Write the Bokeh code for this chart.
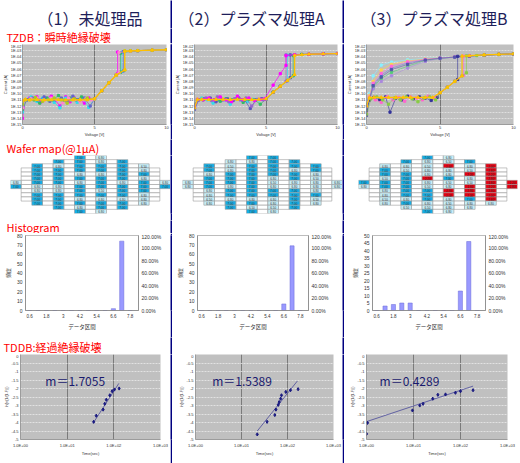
from bokeh.plotting import figure
from bokeh.layouts import row, column
from bokeh.models import (Range1d, FixedTicker, LinearAxis, Label, Title,
                          CustomJSTickFormatter, NumeralTickFormatter)
from bokeh.core.properties import value
from bokeh.embed import file_html
from bokeh.resources import INLINE

JP = "Noto Sans CJK JP"
LAT = "Liberation Sans"
RED = "#ff0000"
NAVY = "#000080"
TITLE_C = "#1e1e5a"

# ---------------- texts ----------------
titles = ["（1）未処理品", "（2）プラズマ処理A", "（3）プラズマ処理B"]
label_tzdb = "TZDB：瞬時絶縁破壊"
label_wafer = "Wafer map(@1μA)"
label_hist = "Histogram"
label_tddb = "TDDB:経過絶縁破壊"
m_texts = ["m＝1.7055", "m＝1.5389", "m＝0.4289"]

# ---------------- I-V (TZDB) data ----------------
iv_decades = [1e-02, 1e-03, 1e-04, 1e-05, 1e-06, 1e-07, 1e-08, 1e-09,
              1e-10, 1e-11, 1e-12, 1e-13, 1e-14, 1e-15]
iv_volt_ticks = [0, 5, 10]

c1_mag_v = [0, 0.2, 0.5, 1.0, 1.3, 1.6, 2.0, 2.3, 2.6, 3.0, 3.3, 3.6, 4.0, 4.3, 4.6, 5.0, 5.5, 6.0, 6.5, 6.6, 6.6, 7.0, 8.0, 9.0, 10.0]
c1_mag_i = [1e-14, 1e-11, 2e-11, 3e-11, 5e-12, 2e-11, 4e-11, 8e-12, 1e-12, 3e-11, 5e-12, 2e-11, 1e-11, 3e-12, 2e-11, 1.5e-11, 3e-10, 6e-09, 1.2e-07, 2e-07, 6e-04, 7e-04, 1e-03, 1.2e-03, 1.4e-03]
c1_cyn_v = [0, 0.2, 0.6, 1.0, 1.4, 1.8, 2.2, 2.6, 3.0, 3.4, 3.8, 4.2, 4.6, 5.0, 5.5, 6.0, 6.5, 6.9, 6.9, 7.5, 8.0, 9.0, 10.0]
c1_cyn_i = [1e-13, 1e-11, 3e-11, 6e-12, 2e-11, 1e-11, 4e-12, 5e-13, 2e-11, 1e-11, 4e-12, 2e-11, 6e-13, 1.3e-11, 3e-10, 6e-09, 1.1e-07, 4e-07, 5e-04, 8e-04, 1e-03, 1.2e-03, 1.4e-03]
c1_grn_v = [0, 0.3, 0.8, 1.2, 1.7, 2.1, 2.5, 2.9, 3.3, 3.7, 4.1, 4.5, 5.0, 5.5, 6.0, 6.5, 6.8, 6.8, 7.5, 8.0, 9.0, 10.0]
c1_grn_i = [3e-13, 1e-11, 1e-11, 3e-12, 2e-11, 1e-11, 5e-11, 8e-12, 2e-11, 1e-11, 3e-11, 1.2e-11, 1.4e-11, 3e-10, 6e-09, 1.1e-07, 3e-07, 4e-04, 8e-04, 1e-03, 1.2e-03, 1.4e-03]
c1_blu_v = [0, 0.3, 0.7, 1.1, 1.5, 1.9, 2.3, 2.7, 3.1, 3.5, 3.9, 4.3, 4.7, 5.0, 5.5, 6.0, 6.5, 7.0, 7.0, 7.5, 8.0, 9.0, 10.0]
c1_blu_i = [1e-12, 1e-11, 2e-11, 1e-11, 3e-11, 6e-12, 1e-11, 2e-11, 7e-12, 4e-11, 1e-11, 2e-11, 1e-12, 1.5e-11, 3e-10, 6e-09, 1.1e-07, 5e-07, 7e-04, 8e-04, 1e-03, 1.2e-03, 1.4e-03]
c1_pnk_v = [0, 0.2, 0.6, 1.0, 1.5, 2.0, 2.4, 2.8, 3.2, 3.6, 4.0, 4.4, 4.8, 5.0, 5.5, 6.0, 6.5, 6.7, 6.7, 7.5, 8.0, 9.0, 10.0]
c1_pnk_i = [5e-13, 1e-11, 1.5e-11, 2e-11, 8e-12, 2e-11, 1e-11, 3e-12, 2e-11, 1e-11, 5e-12, 1.5e-11, 1e-11, 1.3e-11, 3e-10, 6e-09, 1.2e-07, 2.5e-07, 5e-04, 8e-04, 1e-03, 1.2e-03, 1.4e-03]
c1_lim_v = [0, 0.2, 0.5, 0.9, 1.4, 1.8, 2.2, 2.7, 3.1, 3.6, 4.0, 4.5, 5.0, 5.5, 6.0, 6.5, 7.1, 7.1, 7.5, 8.0, 9.0, 10.0]
c1_lim_i = [2e-12, 1e-11, 1e-11, 2.5e-11, 6e-12, 1e-11, 2e-11, 1e-11, 3e-12, 1.5e-11, 1e-11, 2e-11, 1.4e-11, 3e-10, 6e-09, 1.1e-07, 7e-07, 9e-04, 9e-04, 1e-03, 1.2e-03, 1.4e-03]
c1_yel_v = [0, 0.2, 0.5, 1.0, 1.5, 2.0, 2.5, 3.0, 3.5, 4.0, 4.5, 5.0, 5.5, 6.0, 6.5, 7.1, 7.1, 7.5, 8.0, 9.0, 10.0]
c1_yel_i = [8e-12, 1.2e-11, 1e-11, 1.1e-11, 1e-11, 1e-11, 1.1e-11, 1e-11, 1e-11, 1.1e-11, 1e-11, 1.5e-11, 3e-10, 6e-09, 1e-07, 8e-07, 8e-04, 9e-04, 1e-03, 1.2e-03, 1.4e-03]

c2_cyn_v = [0, 0.2, 0.5, 0.9, 1.3, 1.7, 2.1, 2.5, 2.9, 3.3, 3.7, 4.1, 4.5, 5.0, 5.5, 6.0, 6.5, 6.5, 7.0, 8.0, 9.0, 10.0]
c2_cyn_i = [1e-12, 1e-11, 2e-11, 1e-11, 3e-12, 1.5e-11, 1e-11, 2e-12, 1.5e-11, 1e-11, 5e-12, 1.2e-11, 1e-11, 1.3e-11, 1.8e-10, 1.6e-09, 1.4e-08, 1.8e-04, 2.2e-04, 2.6e-04, 3e-04, 3.4e-04]
c2_blu_v = [0, 0.3, 0.7, 1.1, 1.5, 1.9, 2.3, 2.7, 3.1, 3.5, 3.9, 4.3, 4.7, 5.0, 5.5, 6.0, 6.5, 6.7, 6.7, 7.5, 8.0, 9.0, 10.0]
c2_blu_i = [3e-13, 1e-11, 1.5e-11, 2e-11, 5e-12, 1e-11, 1.5e-11, 8e-12, 2e-11, 1e-11, 4e-13, 1e-11, 1.5e-11, 1.3e-11, 1.8e-10, 1.6e-09, 1.4e-08, 4e-08, 2e-04, 2.4e-04, 2.6e-04, 3e-04, 3.4e-04]
c2_grn_v = [0, 0.2, 0.6, 1.0, 1.4, 1.8, 2.2, 2.6, 3.0, 3.4, 3.8, 4.2, 4.6, 5.0, 5.5, 6.0, 6.5, 6.9, 6.9, 7.5, 8.0, 9.0, 10.0]
c2_grn_i = [2e-12, 1e-11, 1e-11, 1.5e-11, 1e-11, 6e-12, 1.5e-11, 1e-11, 2e-11, 4e-12, 1.2e-11, 1e-11, 2e-12, 1.3e-11, 1.8e-10, 1.6e-09, 1.4e-08, 8e-08, 1.6e-04, 2.4e-04, 2.6e-04, 3e-04, 3.4e-04]
c2_pur_v = [0, 0.3, 0.8, 1.2, 1.6, 2.0, 2.4, 2.8, 3.2, 3.6, 4.0, 4.4, 4.8, 5.0, 5.5, 6.0, 6.4, 6.4, 7.0, 8.0, 9.0, 10.0]
c2_pur_i = [5e-13, 1e-11, 2e-11, 8e-12, 3e-11, 1e-11, 5e-12, 1.5e-11, 1e-11, 2e-11, 1e-12, 1.2e-11, 1e-11, 1.3e-11, 1.8e-10, 1.6e-09, 1e-08, 2e-04, 2.2e-04, 2.6e-04, 3e-04, 3.4e-04]
c2_mag_v = [0, 0.2, 0.6, 1.0, 1.4, 1.8, 2.2, 2.6, 3.0, 3.4, 3.8, 4.2, 4.6, 4.9, 5.5, 6.0, 6.4, 6.4, 7.0, 8.0, 9.0, 10.0]
c2_mag_i = [1e-12, 1.2e-11, 1e-11, 2e-11, 1e-11, 3e-11, 1e-11, 5e-12, 4e-11, 1e-11, 2e-11, 8e-12, 1.2e-11, 1.5e-11, 2.5e-09, 1.8e-07, 4e-06, 1.5e-04, 2.2e-04, 2.6e-04, 3e-04, 3.4e-04]
c2_yel_v = [0, 0.2, 0.5, 1.0, 1.5, 2.0, 2.5, 3.0, 3.5, 4.0, 4.5, 5.0, 5.5, 6.0, 6.5, 7.0, 7.0, 7.5, 8.0, 9.0, 10.0]
c2_yel_i = [5e-13, 1.2e-11, 1.2e-11, 1.1e-11, 1.2e-11, 1.2e-11, 1.1e-11, 1.2e-11, 1.2e-11, 1.1e-11, 1.2e-11, 1.5e-11, 1.8e-10, 1.6e-09, 1.4e-08, 1.3e-07, 1.7e-04, 2.2e-04, 2.6e-04, 3e-04, 3.4e-04]

c3_hys_v = [0, 0.2, 0.45, 1.0, 1.7, 2.8, 4.0, 5.0, 6.0, 7.0, 8.0, 9.0, 10.0]
c3_cyn_i = [3e-13, 1e-10, 8e-08, 4.5e-06, 1.4e-05, 3.2e-05, 5.5e-05, 8e-05, 1e-04, 1.3e-04, 1.8e-04, 2.4e-04, 3e-04]
c3_org_i = [1e-12, 5e-11, 1e-08, 7e-07, 6e-06, 2e-05, 4.5e-05, 7e-05, 1e-04, 1.3e-04, 1.8e-04, 2.4e-04, 3e-04]
c3_blu_i = [5e-13, 2e-11, 3e-09, 1e-07, 1.4e-06, 1e-05, 3.5e-05, 6e-05, 9e-05, 1.3e-04, 1.8e-04, 2.4e-04, 3e-04]
c3_grn_i = [2e-12, 1e-11, 1e-09, 3e-08, 3e-07, 3e-06, 2.5e-05, 5.5e-05, 9e-05, 1.3e-04, 1.8e-04, 2.4e-04, 3e-04]
c3_mag_i = [1e-13, 3e-11, 5e-09, 2e-07, 3e-06, 1.5e-05, 4e-05, 6.5e-05, 9.5e-05, 1.3e-04, 1.8e-04, 2.4e-04, 3e-04]
c3_pur_i = [1e-12, 1e-11, 6e-10, 1e-08, 8e-08, 1.5e-06, 1.8e-05, 5e-05, 9e-05, 1.3e-04, 1.8e-04, 2.4e-04, 3e-04]
c3_nav_i = [3e-14, 1e-11, 2e-09, 5e-08, 8e-07, 6e-06, 3e-05, 6e-05, 9e-05, 1.3e-04, 1.8e-04, 2.4e-04, 3e-04]
c3_a1_v = [0, 0.2, 0.5, 0.9, 1.3, 1.6, 2.0, 2.4, 2.8, 3.2, 3.6, 4.0, 4.4, 4.8, 5.0, 5.5, 6.0, 6.2, 6.2, 7.0, 8.0, 9.0, 10.0]
c3_a1_i = [2e-13, 1e-11, 2.5e-11, 1e-11, 3e-11, 1e-13, 2e-11, 1e-11, 4e-11, 1.5e-11, 3e-11, 2e-11, 8e-12, 2.5e-11, 1.4e-10, 1.1e-09, 1e-08, 2e-08, 1.2e-04, 1.5e-04, 2e-04, 2.5e-04, 3e-04]
c3_a2_v = [0, 0.2, 0.6, 1.0, 1.4, 1.8, 2.2, 2.6, 3.0, 3.4, 3.8, 4.2, 4.6, 5.0, 5.5, 6.0, 6.5, 6.6, 6.6, 7.0, 8.0, 9.0, 10.0]
c3_a2_i = [1e-12, 2e-11, 1e-11, 4e-12, 3e-11, 1e-11, 2.5e-11, 6e-12, 3e-11, 2e-11, 1e-11, 4e-11, 2e-11, 1.4e-10, 1.1e-09, 1e-08, 8e-08, 1e-07, 1.3e-04, 1.5e-04, 2e-04, 2.5e-04, 3e-04]
c3_a3_v = [0, 0.3, 0.7, 1.1, 1.5, 1.9, 2.3, 2.7, 3.1, 3.5, 3.9, 4.3, 4.7, 5.0, 5.5, 6.0, 6.5, 6.8, 6.8, 7.5, 8.0, 9.0, 10.0]
c3_a3_i = [5e-14, 1.5e-11, 3e-11, 1e-11, 2e-12, 2e-11, 1e-11, 3e-11, 1.5e-11, 5e-12, 2e-11, 3e-11, 1e-11, 1.4e-10, 1.1e-09, 1e-08, 8e-08, 2.5e-07, 1.4e-04, 1.6e-04, 2e-04, 2.5e-04, 3e-04]
c3_yel_v = [0, 0.2, 0.5, 1.0, 1.5, 2.0, 2.5, 3.0, 3.5, 4.0, 4.5, 5.0, 5.5, 6.0, 6.5, 6.5, 7.0, 8.0, 9.0, 10.0]
c3_yel_i = [1e-12, 2.5e-11, 2.5e-11, 2.5e-11, 2.5e-11, 2.5e-11, 2.5e-11, 2.5e-11, 2.5e-11, 2.5e-11, 2.5e-11, 1.4e-10, 1.1e-09, 1e-08, 8e-08, 1.3e-04, 1.5e-04, 2e-04, 2.5e-04, 3e-04]

# ---------------- wafer map data (breakdown voltage per die) ----------------
c1_strips = [
    [6.80, 7.00],
    [7.00, 7.00, 7.00, 7.00, 7.00, 6.80, 6.80, 7.00, 7.00, 7.00],
    [7.00, 6.80, 7.00, 7.00, 7.00, 7.00, 6.80, 6.80, 7.00, 7.00, 7.00, 7.00],
    [7.00, 7.00, 7.00, 7.00, 6.80, 7.00, 6.80, 7.00, 7.00, 7.00, 6.80, 7.00, 6.80, 7.00],
    [6.80, 6.80, 7.00, 7.00, 6.80, 7.00, 7.00, 7.00, 6.50, 7.00, 6.80, 7.00, 7.00, 6.80],
    [7.00, 7.00, 7.00, 7.00, 7.00, 6.80, 7.00, 7.00, 7.00, 6.80, 7.00, 7.00],
    [6.50, 6.80, 7.00, 6.80, 7.00, 7.00, 7.00, 6.80, 6.80, 6.80],
    [6.80, 7.00],
]
c2_strips = [
    [6.80, 6.80],
    [7.00, 7.00, 6.80, 7.00, 7.00, 7.00, 6.80, 6.80, 6.50, 6.80],
    [6.80, 6.50, 6.80, 7.00, 7.00, 7.00, 6.80, 7.00, 7.00, 6.80, 7.00, 7.00],
    [7.00, 6.80, 7.00, 7.00, 7.00, 7.00, 7.00, 7.00, 7.00, 7.00, 6.80, 7.00, 6.50, 7.00],
    [7.00, 7.00, 7.00, 7.00, 7.00, 6.80, 6.50, 6.80, 7.00, 7.00, 6.80, 6.80, 6.50, 6.80],
    [7.00, 7.00, 6.80, 7.00, 7.00, 6.80, 6.80, 7.00, 7.00, 7.00, 7.00, 7.00],
    [7.00, 7.00, 6.80, 6.50, 6.80, 6.80, 6.80, 7.00, 6.50, 6.80],
    [6.80, 6.80],
]
c3_strips = [
    [7.00, 6.80],
    [6.80, 7.00, 7.00, 6.50, 7.00, 7.00, 6.80, 6.80, 6.50, 6.80],
    [7.00, 6.80, 6.50, 7.00, 7.00, 7.00, 7.00, 7.00, 7.00, 6.80, 7.00, 6.50],
    [7.00, 6.80, 6.50, 6.80, 6.80, 2.20, 6.80, 6.50, 7.00, 7.00, 7.00, 6.80, 6.50, 7.00],
    [6.80, 6.50, 1.60, 6.80, 6.80, 7.00, 6.50, 6.80, 2.80, 1.00, 6.80, 6.50, 6.80, 6.80],
    [7.00, 6.80, 6.50, 2.20, 6.80, 6.50, 1.60, 2.80, 1.00, 7.00, 6.80, 6.80],
    [1.00, 1.60, 2.20, 2.80, 1.60, 2.20, 2.80, 1.00, 1.60, 6.80],
    [2.20, 2.80],
]
# die layout of the wafer (column index, first row) for each strip, and empty frame columns
wafer_strip_cols = [0, 2, 4, 6, 8, 10, 12, 14]
wafer_strip_row0 = [6, 2, 1, 0, 0, 1, 2, 6]
wafer_empty_cols = [1, 3, 5, 7, 9, 11, 13]
wafer_empty_rows = [(3, 10), (2, 11), (1, 12), (0, 13), (1, 12), (2, 11), (3, 10)]

# ---------------- histogram data ----------------
hist_bins = [0.6, 1.2, 1.8, 2.4, 3.0, 3.6, 4.2, 4.8, 5.4, 6.0, 6.6, 7.2, 7.8]
hist_label_bins = [0.6, 1.8, 3.0, 4.2, 5.4, 6.6, 7.8]
c1_counts = [0, 0, 0, 0, 0, 0, 0, 0, 0, 0, 2, 74, 0]
c2_counts = [0, 0, 0, 0, 0, 0, 0, 0, 0, 0, 7, 69, 0]
c3_counts = [0, 3, 4, 5, 5, 0, 0, 0, 0, 0, 13, 46, 0]
pct_ticks = [0, 0.2, 0.4, 0.6, 0.8, 1.0, 1.2]

# ---------------- TDDB (Weibull) data ----------------
tddb_x_ticks = [1, 10, 100, 1000]
tddb_y_ticks = [0, -0.5, -1, -1.5, -2, -2.5, -3, -3.5, -4, -4.5, -5]
c1_t = [37, 42, 59, 64, 69, 82, 92, 103, 130]
c1_w = [-3.96, -3.6, -3.24, -2.9, -2.66, -2.4, -2.16, -2.06, -2.0]
c1_fit_t = [36, 128]
c1_fit_w = [-4.04, -1.7]
c2_t = [22, 36, 53, 56, 63, 66, 71, 74, 92, 116, 170]
c2_w = [-4.7, -3.96, -3.56, -3.24, -2.96, -2.8, -2.6, -2.4, -2.2, -2.1, -2.04]
c2_fit_t = [22, 164]
c2_fit_w = [-4.5, -1.56]
c3_t = [1.0, 1.05, 9.5, 13.6, 16, 25.7, 33, 48, 78, 100, 185]
c3_w = [-4.67, -4.02, -3.29, -3.0, -2.9, -2.6, -2.37, -2.35, -2.25, -2.16, -2.1]
c3_fit_t = [1.0, 185]
c3_fit_w = [-3.95, -1.86]

# ====================================================================
IV_FMT = CustomJSTickFormatter(code="""
const e = Math.round(Math.log10(tick)); const a = Math.abs(e);
return '1E' + (e < 0 ? '-' : '+') + (a < 10 ? '0' + a : '' + a);""")
T_FMT = CustomJSTickFormatter(code="""
const e = Math.round(Math.log10(tick)); const a = Math.abs(e);
return '1.0E' + (e < 0 ? '-' : '+') + (a < 10 ? '0' + a : '' + a);""")
NUM_FMT = CustomJSTickFormatter(code="return String(Math.round(tick * 10) / 10);")


def base_fig(w, h, left, right, top, bottom, **kw):
    p = figure(width=w, height=h, toolbar_location=None, output_backend="svg",
               min_border_left=left, min_border_right=right,
               min_border_top=top, min_border_bottom=bottom, **kw)
    p.outline_line_color = None
    p.border_fill_color = "white"
    return p


def style_axis(ax, size, lab_font=LAT):
    ax.major_label_text_font_size = size
    ax.major_label_text_font = LAT
    ax.major_label_text_color = "#333333"
    ax.axis_label_text_font_size = size
    ax.axis_label_text_font = lab_font
    ax.axis_label_text_font_style = "normal"
    ax.axis_label_text_color = "#333333"
    ax.major_tick_out = 0
    ax.major_tick_in = 0
    ax.minor_tick_out = 0
    ax.minor_tick_in = 0
    ax.axis_line_color = "#808080"
    ax.axis_line_width = 0.7
    ax.major_label_standoff = 1
    ax.axis_label_standoff = 0


def side_title(p, text, size="4px"):
    # vertical axis title placed on the left, outside the tick labels
    p.add_layout(Title(text=text, align="center", standoff=0, offset=0,
                       text_font=LAT, text_font_size=size, text_font_style="normal",
                       text_color="#333333"), "left")


def text_fig(w, h, text=None, x=0, y=0, size="11px", color=RED, align="left"):
    p = figure(width=w, height=h, x_range=Range1d(0, w), y_range=Range1d(h, 0),
               x_axis_location=None, y_axis_location=None, toolbar_location=None,
               output_backend="svg", min_border=0)
    p.outline_line_color = None
    p.xgrid.visible = False
    p.ygrid.visible = False
    if text:
        p.add_layout(Label(x=x, y=y, text=text, text_font=JP, text_font_size=size,
                           text_color=color, text_align=align, text_baseline="middle"))
    return p


def sep_fig(h):
    p = figure(width=2, height=h, x_axis_location=None, y_axis_location=None,
               toolbar_location=None, output_backend="svg", min_border=0)
    p.outline_line_color = None
    p.background_fill_color = NAVY
    p.border_fill_color = NAVY
    p.xgrid.visible = False
    p.ygrid.visible = False
    return p


def iv_fig(w, left, right, curves):
    p = base_fig(w, 96, left, right, 1, 11, x_range=Range1d(0, 10),
                 y_range=Range1d(1e-15, 1e-2), y_axis_type="log")
    p.background_fill_color = "#c0c0c0"
    p.xaxis.ticker = FixedTicker(ticks=iv_volt_ticks)
    p.yaxis.ticker = FixedTicker(ticks=iv_decades)
    p.yaxis.formatter = IV_FMT
    p.xaxis.axis_label = "Voltage [V]"
    for ax in p.axis:
        style_axis(ax, "4px")
    side_title(p, "Current [A]")
    p.ygrid.ticker = FixedTicker(ticks=iv_decades)
    p.ygrid.grid_line_color = "#ececec"
    p.ygrid.grid_line_width = 0.7
    p.ygrid.grid_line_dash = "2 1"
    p.xgrid.ticker = FixedTicker(ticks=[5])
    p.xgrid.grid_line_color = "#555555"
    p.xgrid.grid_line_width = 0.7
    for v, i, c, mk, lw in curves:
        p.line(v, i, line_color=c, line_width=lw)
        p.scatter(v, i, marker=mk, size=2.2 if mk != "triangle" else 3.0,
                  fill_color=c, line_color=c)
    return p


def wafer_color(v):
    if v <= 3.0:
        return "#e60012"
    if v >= 7.0:
        return "#14aee6"
    return "#c6eef8"


def wafer_fig(w, left, right, strips):
    p = base_fig(w, 65, left, right, 0, 7, x_range=Range1d(-0.5, 14.5),
                 y_range=Range1d(13.5, -0.5), x_axis_location=None, y_axis_location=None)
    p.xgrid.visible = False
    p.ygrid.visible = False
    ex, ey = [], []
    for c, (r0, r1) in zip(wafer_empty_cols, wafer_empty_rows):
        for r in range(r0, r1 + 1):
            ex.append(c)
            ey.append(r)
    p.rect(ex, ey, width=1, height=1, fill_color="white", line_color="#9a9a9a", line_width=0.6)
    dx, dy, cols, txt = [], [], [], []
    for c, r0, vals in zip(wafer_strip_cols, wafer_strip_row0, strips):
        for k, v in enumerate(vals):
            dx.append(c)
            dy.append(r0 + k)
            cols.append(wafer_color(v))
            txt.append(f"{v:.2f}")
    p.rect(dx, dy, width=1, height=1, fill_color=cols, line_color="#9a9a9a", line_width=0.6)
    p.text(dx, dy, text=txt, text_font=value(LAT), text_font_size="3px",
           text_align="center", text_baseline="middle", text_color="#333333")
    return p


def hist_fig(w, left, right, counts, ymax, ystep):
    p = base_fig(w, 104, left, right, 2, 27, x_range=Range1d(0.3, 8.4),
                 y_range=Range1d(0, ymax))
    p.outline_line_color = "#a0a0a0"
    p.outline_line_width = 0.7
    p.vbar(x=hist_bins, top=counts, width=0.3, fill_color="#9999ff",
           line_color="#6b6bd6", line_width=0.5)
    p.xaxis.ticker = FixedTicker(ticks=hist_label_bins)
    p.xaxis.formatter = NUM_FMT
    p.yaxis.ticker = FixedTicker(ticks=list(range(0, ymax + 1, ystep)))
    p.extra_y_ranges = {"pct": Range1d(0, 1.2)}
    ax = LinearAxis(y_range_name="pct", ticker=FixedTicker(ticks=pct_ticks),
                    formatter=NumeralTickFormatter(format="0.00%"))
    p.add_layout(ax, "right")
    p.xaxis.axis_label = "データ区間"
    p.yaxis[0].axis_label = "頻度"
    for a in p.axis:
        style_axis(a, "5px", JP)
    p.xaxis.major_label_text_font_size = "4.5px"
    p.xaxis.major_label_standoff = 3
    p.xaxis.axis_label_standoff = 2
    p.xaxis.axis_label_text_font_size = "5.5px"
    p.yaxis.major_label_standoff = 3
    p.yaxis[0].axis_label_standoff = 3
    p.grid.visible = False
    return p


def tddb_fig(w, left, right, t, wv, ft, fw, mtxt, mx):
    p = base_fig(w, 109, left, right, 0, 24, x_axis_type="log",
                 x_range=Range1d(1, 1000), y_range=Range1d(-5, 0))
    p.background_fill_color = "#c0c0c0"
    p.xaxis.ticker = FixedTicker(ticks=tddb_x_ticks)
    p.xaxis.formatter = T_FMT
    p.yaxis.ticker = FixedTicker(ticks=tddb_y_ticks)
    p.yaxis.formatter = NUM_FMT
    p.xaxis.axis_label = "Time(sec)"
    for a in p.axis:
        style_axis(a, "4px")
    side_title(p, "ln(ln(1/(1-F)))", "3.5px")
    p.yaxis.major_label_standoff = 2
    p.xaxis.major_label_standoff = 3
    p.ygrid.ticker = FixedTicker(ticks=tddb_y_ticks)
    p.ygrid.grid_line_color = "#f0f0f0"
    p.ygrid.grid_line_dash = "2 1"
    p.ygrid.grid_line_width = 0.7
    p.xgrid.ticker = FixedTicker(ticks=[10, 100])
    p.xgrid.grid_line_color = "#6a6a6a"
    p.xgrid.grid_line_width = 0.8
    p.line(ft, fw, line_color="#4a4a9a", line_width=0.8)
    p.scatter(t, wv, marker="diamond", size=3.2, fill_color="#1a1a80", line_color="#1a1a80")
    p.add_layout(Label(x=mx, y=-1.5, text=mtxt, text_font=JP, text_font_size="12px",
                       text_color="#1a1a6e", text_baseline="middle"))
    return p


# ---------------- assemble (one row per band so frames are not aligned) ----------------
iv1 = iv_fig(170, 17, 4, [
    (c1_mag_v, c1_mag_i, "#ff00ff", "square", 0.7), (c1_cyn_v, c1_cyn_i, "#33ddee", "square", 0.7),
    (c1_grn_v, c1_grn_i, "#33bb66", "square", 0.7), (c1_blu_v, c1_blu_i, "#6666cc", "square", 0.7),
    (c1_pnk_v, c1_pnk_i, "#ff88cc", "square", 0.7), (c1_lim_v, c1_lim_i, "#aacc22", "square", 0.7),
    (c1_yel_v, c1_yel_i, "#ffc000", "triangle", 1.3)])
iv2 = iv_fig(170, 16, 5, [
    (c2_cyn_v, c2_cyn_i, "#33ddee", "square", 0.7), (c2_blu_v, c2_blu_i, "#5555bb", "square", 0.7),
    (c2_grn_v, c2_grn_i, "#33bb66", "square", 0.7), (c2_pur_v, c2_pur_i, "#9966cc", "square", 0.7),
    (c2_mag_v, c2_mag_i, "#ff00ff", "square", 0.7), (c2_yel_v, c2_yel_i, "#ffc000", "triangle", 1.3)])
iv3 = iv_fig(176, 21, 7, [
    (c3_hys_v, c3_cyn_i, "#88f0ff", "square", 0.6), (c3_hys_v, c3_org_i, "#ffd24d", "square", 0.6),
    (c3_hys_v, c3_blu_i, "#6677dd", "square", 0.5), (c3_hys_v, c3_grn_i, "#55cc77", "square", 0.6),
    (c3_hys_v, c3_mag_i, "#ff66dd", "square", 0.5), (c3_hys_v, c3_pur_i, "#aa88dd", "square", 0.5),
    (c3_hys_v, c3_nav_i, "#5555aa", "square", 0.5),
    (c3_a1_v, c3_a1_i, "#333399", "square", 0.6), (c3_a2_v, c3_a2_i, "#ff66cc", "square", 0.6),
    (c3_a3_v, c3_a3_i, "#88cc44", "square", 0.6), (c3_yel_v, c3_yel_i, "#ffc000", "triangle", 1.2)])

wf1 = wafer_fig(170, 10, 0, c1_strips)
wf2 = wafer_fig(170, 10, 0, c2_strips)
wf3 = wafer_fig(176, 14, 3, c3_strips)

hs1 = hist_fig(170, 25, 32, c1_counts, 80, 10)
hs2 = hist_fig(170, 23, 34, c2_counts, 80, 10)
hs3 = hist_fig(176, 28, 35, c3_counts, 50, 5)

td1 = tddb_fig(170, 20, 10, c1_t, c1_w, c1_fit_t, c1_fit_w, m_texts[0], 3.4)
td2 = tddb_fig(170, 23, 9, c2_t, c2_w, c2_fit_t, c2_fit_w, m_texts[1], 2.3)
td3 = tddb_fig(176, 22, 13, c3_t, c3_w, c3_fit_t, c3_fit_w, m_texts[2], 1.9)


def band(a, b, c, h):
    return row(a, sep_fig(h), b, sep_fig(h), c, spacing=0)


bands = [
    band(text_fig(170, 28, titles[0], 37, 17, "16px", TITLE_C),
         text_fig(170, 28, titles[1], 6, 17, "16px", TITLE_C),
         text_fig(176, 28, titles[2], 16, 17, "16px", TITLE_C), 28),
    band(text_fig(170, 15, label_tzdb, 6, 8), text_fig(170, 15), text_fig(176, 15), 15),
    band(iv1, iv2, iv3, 96),
    band(text_fig(170, 16, label_wafer, 6, 8.5), text_fig(170, 16), text_fig(176, 16), 16),
    band(wf1, wf2, wf3, 65),
    band(text_fig(170, 13, label_hist, 6, 6), text_fig(170, 13), text_fig(176, 13), 13),
    band(hs1, hs2, hs3, 104),
    band(text_fig(170, 17, label_tddb, 3, 9), text_fig(170, 17), text_fig(176, 17), 17),
    band(td1, td2, td3, 109),
]
layout = column(*bands, spacing=0)

open("out.html", "w").write(file_html(layout, INLINE, title="TZDB / TDDB"))
